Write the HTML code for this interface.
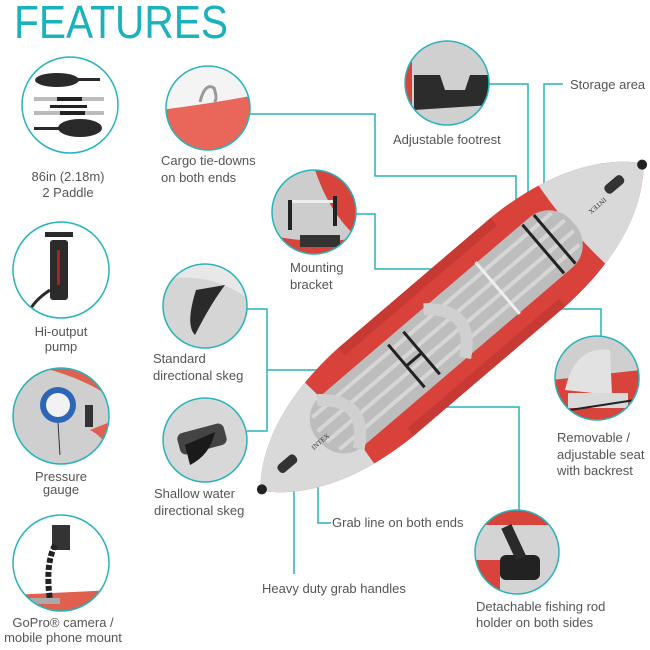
<!DOCTYPE html>
<html><head><meta charset="utf-8"><style>
html,body{margin:0;padding:0;background:#fff}
svg{display:block}
text{font-family:"Liberation Sans",sans-serif;fill:#555;font-size:13px}
</style></head><body>
<svg width="650" height="650" viewBox="0 0 650 650" xmlns="http://www.w3.org/2000/svg">
<defs>
<clipPath id="c1"><circle cx="70" cy="105" r="48"/></clipPath>
<clipPath id="c2"><circle cx="208" cy="108" r="42"/></clipPath>
<clipPath id="c3"><circle cx="61" cy="270" r="48"/></clipPath>
<clipPath id="c4"><circle cx="61" cy="416" r="48"/></clipPath>
<clipPath id="c5"><circle cx="61" cy="563" r="48"/></clipPath>
<clipPath id="c6"><circle cx="205" cy="306" r="42"/></clipPath>
<clipPath id="c7"><circle cx="205" cy="440" r="42"/></clipPath>
<clipPath id="c8"><circle cx="314" cy="212" r="42"/></clipPath>
<clipPath id="c9"><circle cx="447" cy="83" r="42"/></clipPath>
<clipPath id="c10"><circle cx="597" cy="378" r="42"/></clipPath>
<clipPath id="c11"><circle cx="517" cy="552" r="42"/></clipPath>
<clipPath id="hull"><path d="M-252 0 C-225 -32 -175 -56 -100 -58 L100 -58 C175 -56 225 -32 252 0 C225 32 175 56 100 58 L-100 58 C-175 56 -225 32 -252 0Z"/></clipPath>
</defs>

<text x="14" y="38" style="font-size:46px;fill:#1ab3bd" textLength="214" lengthAdjust="spacingAndGlyphs">FEATURES</text>

<!-- connectors -->
<g fill="none" stroke="#27b3ba" stroke-width="1.5">
<polyline points="250,114 375,114 375,176 516,176 516,207"/>
<polyline points="489,84 528,84 528,233"/>
<polyline points="563,84 544,84 544,222 577,222"/>
<polyline points="356,214 375,214 375,269 500,269"/>
<polyline points="485,309 601,309 601,336"/>
<polyline points="247,309 267,309 267,431 247,431"/>
<polyline points="267,370 317,370"/>
<polyline points="438,407 519,407 519,510"/>
<polyline points="318,483 318,523 331,523"/>
<polyline points="294,468 294,574"/>
</g>

<!-- kayak -->
<g transform="translate(452,327) rotate(-40.5)">
<g clip-path="url(#hull)">
<rect x="-260" y="-70" width="520" height="140" fill="#d8423b"/>
<path d="M-260 -70 L-150 -70 Q-140 0 -150 70 L-260 70Z" fill="#d9d9d9"/>
<path d="M260 -70 L160 -70 Q150 0 160 70 L260 70Z" fill="#d9d9d9"/>
<rect x="-100" y="-58" width="200" height="10" fill="#c73a33"/>
<rect x="-100" y="48" width="200" height="10" fill="#c73a33"/>
</g>
<rect x="-175" y="-33" width="335" height="66" rx="30" fill="#bdbdbd"/>
<g stroke="#d6d6d6" stroke-width="4">
<line x1="-165" y1="-22" x2="150" y2="-22"/><line x1="-170" y1="-8" x2="155" y2="-8"/>
<line x1="-170" y1="6" x2="155" y2="6"/><line x1="-165" y1="20" x2="150" y2="20"/>
</g>
<path d="M-150 -32 Q-110 0 -150 32" fill="none" stroke="#d0d0d0" stroke-width="12"/>
<path d="M-10 -32 Q30 0 -10 32" fill="none" stroke="#d0d0d0" stroke-width="12"/>
<g stroke="#222" stroke-width="3">
<line x1="-60" y1="-28" x2="-60" y2="28"/><line x1="-40" y1="-28" x2="-40" y2="28"/>
<line x1="-60" y1="0" x2="-40" y2="0"/>
<line x1="120" y1="-32" x2="120" y2="32"/><line x1="135" y1="-32" x2="135" y2="32"/>
</g>
<line x1="60" y1="-34" x2="60" y2="34" stroke="#eee" stroke-width="3"/>
<rect x="-225" y="-8" width="22" height="10" rx="4" fill="#333"/>
<rect x="205" y="-8" width="22" height="10" rx="4" fill="#333"/>
<circle cx="-250" cy="0" r="5" fill="#222"/><circle cx="250" cy="0" r="5" fill="#222"/>
<text x="-185" y="4" style="font-size:7px;fill:#333;font-family:'Liberation Serif',serif">INTEX</text>
<text x="180" y="4" transform="rotate(180 190 2)" style="font-size:7px;fill:#333;font-family:'Liberation Serif',serif">INTEX</text>
</g>

<!-- circle photos -->
<g clip-path="url(#c1)"><rect x="0" y="50" width="130" height="110" fill="#fff"/>
<ellipse cx="57" cy="80" rx="22" ry="7" fill="#2a2a2a"/><rect x="75" y="78" width="25" height="3" fill="#2a2a2a"/>
<rect x="34" y="97" width="70" height="4" fill="#bbb"/><rect x="57" y="97" width="25" height="4" fill="#222"/>
<rect x="50" y="105" width="37" height="3" fill="#222"/>
<rect x="34" y="111" width="70" height="4" fill="#bbb"/><rect x="60" y="111" width="25" height="4" fill="#222"/>
<ellipse cx="80" cy="128" rx="22" ry="9" fill="#2a2a2a"/><rect x="34" y="127" width="25" height="3" fill="#2a2a2a"/></g>
<g clip-path="url(#c2)"><rect x="160" y="60" width="100" height="100" fill="#f4f4f4"/>
<path d="M160 110 Q208 104 256 95 L256 160 L160 160Z" fill="#e8675a"/>
<path d="M200 102 Q205 82 214 88 Q218 100 214 102" fill="none" stroke="#999" stroke-width="3"/></g>
<g clip-path="url(#c3)"><rect x="10" y="220" width="110" height="100" fill="#fff"/>
<rect x="50" y="240" width="18" height="60" rx="3" fill="#2b2b2b"/><rect x="45" y="232" width="28" height="5" fill="#2b2b2b"/>
<path d="M50 290 Q35 300 30 310" fill="none" stroke="#2b2b2b" stroke-width="3"/>
<rect x="57" y="250" width="3" height="35" fill="#a22"/></g>
<g clip-path="url(#c4)"><rect x="10" y="365" width="110" height="105" fill="#cfcfcf"/>
<path d="M30 365 Q80 375 115 400 L115 365Z" fill="#e0604f"/>
<path d="M90 430 Q110 440 115 470 L115 420Z" fill="#e0604f"/>
<circle cx="58" cy="405" r="18" fill="#2c66b8"/><circle cx="58" cy="405" r="12" fill="#f2f2f2"/>
<line x1="58" y1="423" x2="60" y2="455" stroke="#333"/><rect x="85" y="405" width="8" height="22" fill="#333"/></g>
<g clip-path="url(#c5)"><rect x="10" y="510" width="110" height="110" fill="#fff"/>
<path d="M10 595 L115 590 L115 615 L10 615Z" fill="#e0604f"/>
<rect x="52" y="525" width="18" height="25" fill="#333"/>
<path d="M55 545 Q45 565 50 600" fill="none" stroke="#222" stroke-width="6" stroke-dasharray="5 2"/>
<rect x="20" y="598" width="40" height="6" fill="#aaa"/></g>
<g clip-path="url(#c6)"><rect x="160" y="260" width="100" height="100" fill="#d5d5d5"/>
<path d="M160 280 Q210 270 250 300 L250 260 L160 260Z" fill="#e8e8e8"/>
<path d="M196 290 L225 285 Q210 305 195 335 Q185 325 196 290Z" fill="#2a2a2a"/></g>
<g clip-path="url(#c7)"><rect x="160" y="395" width="100" height="100" fill="#d8d8d8"/>
<rect x="178" y="428" width="48" height="22" rx="6" fill="#444" transform="rotate(-15 202 439)"/>
<path d="M185 445 L215 432 Q210 455 190 465Z" fill="#1a1a1a"/></g>
<g clip-path="url(#c8)"><rect x="270" y="168" width="90" height="90" fill="#cdcdcd"/>
<path d="M315 170 L360 170 L360 240 Q330 215 315 170Z" fill="#d8433b"/>
<path d="M270 235 Q310 245 360 238 L360 258 L270 258Z" fill="#d8433b"/>
<rect x="290" y="200" width="45" height="3" fill="#eee"/><rect x="288" y="200" width="4" height="30" fill="#222"/>
<rect x="333" y="196" width="4" height="30" fill="#222"/><rect x="300" y="235" width="40" height="12" fill="#333"/></g>
<g clip-path="url(#c9)"><rect x="400" y="38" width="95" height="95" fill="#d0d0d0"/>
<path d="M400 38 L412 38 L412 133 L400 133Z" fill="#d8433b"/>
<path d="M414 75 L440 75 L445 90 L465 90 L470 75 L490 75 L490 105 L414 110Z" fill="#2c2c2c"/></g>
<g clip-path="url(#c10)"><rect x="552" y="333" width="92" height="92" fill="#cfcfcf"/>
<path d="M552 380 L640 370 L640 425 L552 425Z" fill="#d8433b"/>
<path d="M565 390 Q575 345 610 350 L612 395Z" fill="#e2e2e2"/>
<rect x="568" y="393" width="60" height="15" fill="#d9d9d9"/>
<line x1="570" y1="410" x2="635" y2="400" stroke="#222" stroke-width="2"/></g>
<g clip-path="url(#c11)"><rect x="472" y="507" width="92" height="92" fill="#d4d4d4"/>
<rect x="472" y="507" width="92" height="18" fill="#d8433b"/>
<path d="M472 560 L500 560 L500 599 L472 599Z" fill="#d8433b"/>
<rect x="500" y="555" width="40" height="25" rx="6" fill="#222"/>
<rect x="508" y="525" width="11" height="35" fill="#2a2a2a" transform="rotate(-25 513 542)"/></g>

<g fill="none" stroke="#27b3ba" stroke-width="1.5">
<circle cx="70" cy="105" r="48"/><circle cx="208" cy="108" r="42"/><circle cx="61" cy="270" r="48"/>
<circle cx="61" cy="416" r="48"/><circle cx="61" cy="563" r="48"/><circle cx="205" cy="306" r="42"/>
<circle cx="205" cy="440" r="42"/><circle cx="314" cy="212" r="42"/><circle cx="447" cy="83" r="42"/>
<circle cx="597" cy="378" r="42"/><circle cx="517" cy="552" r="42"/>
</g>

<!-- labels -->
<g text-anchor="middle">
<text x="68" y="181">86in (2.18m)</text><text x="68" y="197">2 Paddle</text>
<text x="61" y="336">Hi-output</text><text x="61" y="351">pump</text>
<text x="61" y="481">Pressure</text><text x="61" y="494">gauge</text>
<text x="63" y="627">GoPro® camera /</text><text x="63" y="642">mobile phone mount</text>
</g>
<text x="161" y="165">Cargo tie-downs</text><text x="161" y="182">on both ends</text>
<text x="393" y="144">Adjustable footrest</text>
<text x="570" y="89">Storage area</text>
<text x="290" y="272">Mounting</text><text x="290" y="289">bracket</text>
<text x="153" y="363">Standard</text><text x="153" y="380">directional skeg</text>
<text x="154" y="498">Shallow water</text><text x="154" y="515">directional skeg</text>
<text x="557" y="442">Removable /</text><text x="557" y="459">adjustable seat</text><text x="557" y="475">with backrest</text>
<text x="332" y="527">Grab line on both ends</text>
<text x="262" y="593">Heavy duty grab handles</text>
<text x="476" y="611">Detachable fishing rod</text><text x="476" y="627">holder on both sides</text>
</svg>
</body></html>
